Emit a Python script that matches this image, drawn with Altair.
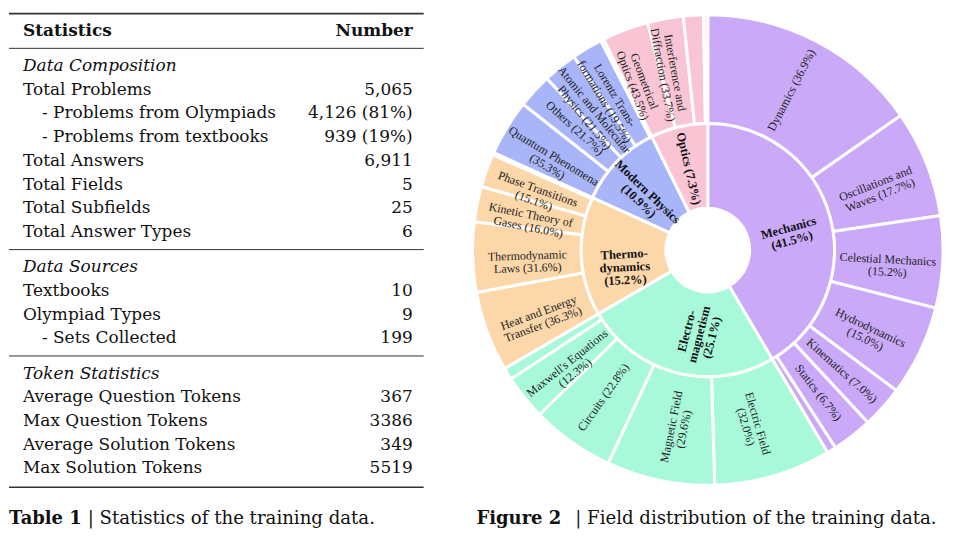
import altair as alt
import pandas as pd

# ---------------- Table data ----------------
row_labels = ["Statistics", "Data Composition", "Total Problems", "- Problems from Olympiads",
              "- Problems from textbooks", "Total Answers", "Total Fields", "Total Subfields",
              "Total Answer Types", "Data Sources", "Textbooks", "Olympiad Types", "- Sets Collected",
              "Token Statistics", "Average Question Tokens", "Max Question Tokens",
              "Average Solution Tokens", "Max Solution Tokens"]
row_values = ["Number", "", "5,065", "4,126 (81%)", "939 (19%)", "6,911", "5", "25", "6",
              "", "10", "9", "199", "", "367", "3386", "349", "5519"]
row_kinds = ["header", "section", "row", "sub", "sub", "row", "row", "row", "row",
             "section", "row", "row", "sub", "section", "row", "row", "row", "row"]

# ---------------- Sunburst data ----------------
fields = ["Mechanics", "Electromagnetism", "Thermodynamics", "Modern Physics", "Optics"]
field_labels = ["Mechanics\n(41.5%)", "Electro-\nmagnetism\n(25.1%)", "Thermo-\ndynamics\n(15.2%)",
                "Modern Physics\n(10.9%)", "Optics (7.3%)"]
field_pct = [41.5, 25.1, 15.2, 10.9, 7.3]
field_colors = ["#C9A9F8", "#A8F9DA", "#FCD7A9", "#A8B5F8", "#F9C5D4"]

mech_labels = ["Dynamics (36.9%)", "Oscillations and\nWaves (17.7%)", "Celestial Mechanics\n(15.2%)",
               "Hydrodynamics\n(15.0%)", "Kinematics (7.0%)", "Statics (6.7%)", ""]
mech_pct = [36.9, 17.7, 15.2, 15.0, 7.0, 6.7, 1.5]
em_labels = ["Electric Field\n(32.0%)", "Magnetic Field\n(29.6%)", "Circuits (22.8%)",
             "Maxwell's Equations\n(12.3%)", ""]
em_pct = [32.0, 29.6, 22.8, 12.3, 3.3]
thermo_labels = ["Heat and Energy\nTransfer (36.3%)", "Thermodynamic\nLaws (31.6%)",
                 "Kinetic Theory of\nGases (16.0%)", "Phase Transitions\n(15.1%)", ""]
thermo_pct = [36.3, 31.6, 16.0, 15.1, 1.0]
modern_labels = ["Quantum Phenomena\n(35.3%)", "Others (21.7%)", "Atomic and Molecular\nPhysics (21.5%)",
                 "Lorentz Trans-\nformations (19.5%)", ""]
modern_pct = [35.3, 21.7, 21.5, 19.5, 2.0]
optics_labels = ["Geometrical\nOptics (43.5%)", "Interference and\nDiffraction (33.7%)", "", ""]
optics_pct = [43.5, 33.7, 18.8, 4.0]
optics_sliver_color = "#FCE6EE"

sub_labels = [mech_labels, em_labels, thermo_labels, modern_labels, optics_labels]
sub_pcts = [mech_pct, em_pct, thermo_pct, modern_pct, optics_pct]

# ---------------- Build table frame ----------------
GAP = 0.483
t_rows = []
n_sec = 0
for i, (lab, val, kind) in enumerate(zip(row_labels, row_values, row_kinds)):
    if kind == "section":
        n_sec += 1
    t_rows.append(dict(label=lab, value=val, kind=kind, u=i + GAP * n_sec))
tdf = pd.DataFrame(t_rows)

rule_rows = [dict(u=tdf.u.iloc[0] - 0.72, w=1.6)]
for i in range(1, len(tdf)):
    if tdf.kind.iloc[i] == "section":
        rule_rows.append(dict(u=(tdf.u.iloc[i] + tdf.u.iloc[i - 1]) / 2, w=1.0))
rule_rows.append(dict(u=tdf.u.iloc[-1] + 0.79, w=1.6))
rdf = pd.DataFrame(rule_rows)

TFONT = "DejaVu Serif"
TSIZE = 17
CSIZE = 18.2
BSIZE = 18
yscale = alt.Scale(domain=[-0.882, 19.37], reverse=True, nice=False, zero=False)
Y = alt.Y("u:Q", scale=yscale, axis=None)

base_t = alt.Chart(tdf)
t_header_l = base_t.transform_filter("datum.kind == 'header'").mark_text(
    align="left", baseline="middle", font=TFONT, fontSize=TSIZE, fontWeight="bold", color="#111"
).encode(y=Y, x=alt.value(14), text="label:N")
t_header_r = base_t.transform_filter("datum.kind == 'header'").mark_text(
    align="right", baseline="middle", font=TFONT, fontSize=TSIZE, fontWeight="bold", color="#111"
).encode(y=Y, x=alt.value(405), text="value:N")
t_section = base_t.transform_filter("datum.kind == 'section'").mark_text(
    align="left", baseline="middle", font=TFONT, fontSize=TSIZE, fontStyle="italic", color="#111"
).encode(y=Y, x=alt.value(14), text="label:N")
t_rows_l = base_t.transform_filter("datum.kind == 'row'").mark_text(
    align="left", baseline="middle", font=TFONT, fontSize=TSIZE, color="#111"
).encode(y=Y, x=alt.value(14), text="label:N")
t_sub_l = base_t.transform_filter("datum.kind == 'sub'").mark_text(
    align="left", baseline="middle", font=TFONT, fontSize=TSIZE, color="#111"
).encode(y=Y, x=alt.value(33), text="label:N")
t_vals = base_t.transform_filter("datum.kind == 'row' || datum.kind == 'sub'").mark_text(
    align="right", baseline="middle", font=TFONT, fontSize=TSIZE, color="#111"
).encode(y=Y, x=alt.value(405), text="value:N")
t_rules = alt.Chart(rdf).mark_rule(color="#333").encode(
    y=Y, x=alt.value(0), x2=alt.value(416), strokeWidth=alt.StrokeWidth("w:Q", scale=None))

cap_df = pd.DataFrame(dict(bold=["Table 1"], rest=["| Statistics of the training data."]))
cap1 = alt.Chart(cap_df).mark_text(align="left", baseline="middle", font=TFONT, fontSize=BSIZE,
                                   fontWeight="bold", color="#111").encode(
    x=alt.value(0), y=alt.value(511), text="bold:N")
cap2 = alt.Chart(cap_df).mark_text(align="left", baseline="middle", font=TFONT, fontSize=CSIZE,
                                   color="#111").encode(
    x=alt.value(79), y=alt.value(511), text="rest:N")

table = alt.layer(t_rules, t_header_l, t_header_r, t_section, t_rows_l, t_sub_l, t_vals,
                  cap1, cap2).properties(width=455, height=482)

# ---------------- Build sunburst frames ----------------
def rot(m):
    r = m - 90 if m <= 180 else m - 270
    return r % 360

f_rows, s_rows = [], []
start = 0.0
for f, flab, fp, fc, labs, pcts in zip(fields, field_labels, field_pct, field_colors, sub_labels, sub_pcts):
    span = fp / 100 * 360
    mid = start + span / 2
    f_rows.append(dict(field=f, label=flab, start=start, end=start + span, mid=mid, rot=rot(mid), color=fc))
    s = start
    for k, (lab, p) in enumerate(zip(labs, pcts)):
        w = p / 100 * span
        col = fc
        if f == "Optics" and k == len(labs) - 1:
            col = optics_sliver_color
        m = s + w / 2
        s_rows.append(dict(field=f, label=lab, start=s, end=s + w, mid=m, rot=rot(m), color=col))
        s += w
    start += span
fdf = pd.DataFrame(f_rows)
sdf = pd.DataFrame(s_rows)

tscale = alt.Scale(domain=[0, 360], range=[0, 6.283185307179586])
R_IN, R_MID, R_OUT = 42, 127, 236

inner_arc = alt.Chart(fdf).mark_arc(radius=R_MID, radius2=R_IN, stroke="white", strokeWidth=3).encode(
    theta=alt.Theta("start:Q", scale=tscale), theta2="end:Q",
    color=alt.Color("color:N", scale=None))
outer_arc = alt.Chart(sdf).mark_arc(radius=R_OUT, radius2=R_MID, stroke="white", strokeWidth=3).encode(
    theta=alt.Theta("start:Q", scale=tscale), theta2="end:Q",
    color=alt.Color("color:N", scale=None))
inner_txt = alt.Chart(fdf).mark_text(radius=84, font="Liberation Serif", fontSize=12.5, fontWeight="bold",
                                     lineBreak="\n", lineHeight=13, color="#111", baseline="middle",
                                     align="center").encode(
    theta=alt.Theta("mid:Q", scale=tscale), angle=alt.Angle("rot:Q", scale=None), text="label:N")
outer_txt = alt.Chart(sdf).mark_text(radius=181, font="Liberation Serif", fontSize=12,
                                     lineBreak="\n", lineHeight=12.5, color="#222", baseline="middle",
                                     align="center").encode(
    theta=alt.Theta("mid:Q", scale=tscale), angle=alt.Angle("rot:Q", scale=None), text="label:N")

fcap_df = pd.DataFrame(dict(bold=["Figure 2"], rest=["| Field distribution of the training data."]))
fcap1 = alt.Chart(fcap_df).mark_text(align="left", baseline="middle", font=TFONT, fontSize=BSIZE,
                                     fontWeight="bold", color="#111").encode(
    x=alt.value(14), y=alt.value(511), text="bold:N")
fcap2 = alt.Chart(fcap_df).mark_text(align="left", baseline="middle", font=TFONT, fontSize=CSIZE,
                                     color="#111").encode(
    x=alt.value(113), y=alt.value(511), text="rest:N")

sun = alt.layer(outer_arc, inner_arc, outer_txt, inner_txt, fcap1, fcap2).properties(width=492, height=482)

chart = alt.hconcat(table, sun, spacing=0, bounds="flush").properties(padding=0).configure_view(strokeWidth=0)
chart.save("out.html", embed_options={"renderer": "svg", "actions": False})
